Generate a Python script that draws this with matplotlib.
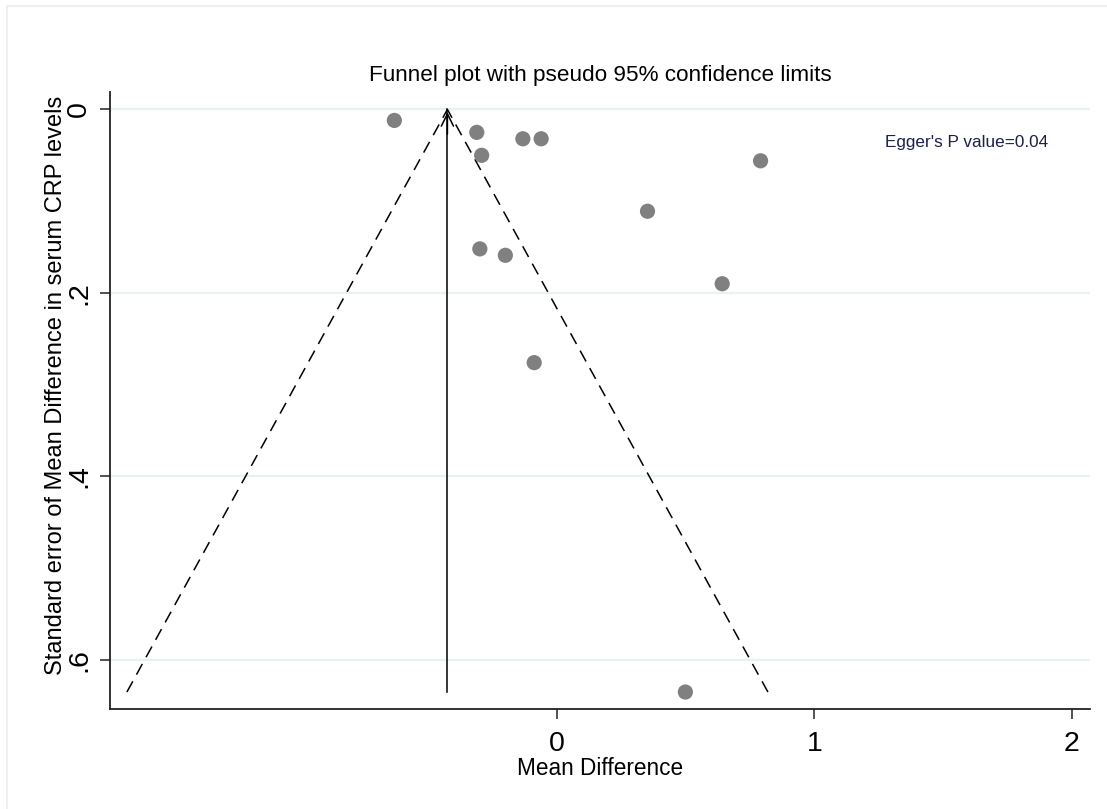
import matplotlib
matplotlib.use("Agg")
import matplotlib.pyplot as plt
from matplotlib.lines import Line2D

plt.rcParams['font.family'] = ['Liberation Sans', 'DejaVu Sans']

# Study-level estimates: mean difference and its standard error
mean_diff = [-0.631, -0.311, -0.132, -0.061, -0.292, 0.791, 0.352,
             -0.299, -0.200, 0.642, -0.088, 0.499]
std_err = [0.012, 0.025, 0.032, 0.032, 0.050, 0.056, 0.111,
           0.152, 0.159, 0.190, 0.276, 0.635]

pooled = -0.425
z95 = 1.96
se_max = max(std_err)

x_ticks = [0, 1, 2]
x_tick_labels = ["0", "1", "2"]
y_ticks = [0, 0.2, 0.4, 0.6]
y_tick_labels = ["0", ".2", ".4", ".6"]

fig = plt.figure(figsize=(11.07, 8.09), dpi=100)
ax = fig.add_axes([0.0994, 0.1236, 0.8852, 0.7627])

# gridlines
for yt in y_ticks:
    ax.axhline(yt, color="#eaf1f3", lw=1.6, zorder=0)

# pseudo 95% confidence limits, each leg drawn from its lower end up to the apex
for sign in (-1, 1):
    ax.plot([pooled + sign * z95 * se_max, pooled], [se_max, 0],
            color="black", lw=1.1, linestyle=(0, (8, 5)), zorder=2)
# pooled estimate line with arrow head at top
ax.plot([pooled, pooled], [se_max, 0], color="black", lw=1.1, zorder=2)
ax.annotate("", xy=(pooled, 0), xytext=(pooled, 0.03),
            arrowprops=dict(arrowstyle="->", color="black", lw=1.1,
                            mutation_scale=22), zorder=2)

ax.scatter(mean_diff, std_err, s=120, color="#808080", edgecolors="none", zorder=3)

ax.set_xlim(-1.735, 2.07)
ax.set_ylim(0.6535, -0.019)

ax.set_xticks(x_ticks)
ax.set_xticklabels(x_tick_labels, fontsize=20.5)
ax.set_yticks(y_ticks)
ax.set_yticklabels(y_tick_labels, fontsize=20.5, rotation=90, va="center")

ax.tick_params(axis="both", direction="out", length=7, width=1.2, color="#333333")
ax.tick_params(axis="x", pad=9)
ax.tick_params(axis="y", pad=6)

for side in ["top", "right"]:
    ax.spines[side].set_visible(False)
for side in ["left", "bottom"]:
    ax.spines[side].set_linewidth(1.3)
    ax.spines[side].set_color("#222222")

ax.set_xlabel("Mean Difference", fontsize=16.3, labelpad=0)
ax.set_ylabel("Standard error of Mean Difference in serum CRP levels",
              fontsize=17)
ax.yaxis.set_label_coords(-0.044, 0.525)
fig.text(0.542, 0.907, "Funnel plot with pseudo 95% confidence limits",
         ha="center", va="center", fontsize=16.2)

ax.text(0.7995, 0.824, "Egger's P value=0.04", transform=fig.transFigure,
        ha="left", va="center", fontsize=12.3, color="#1c1f4a")

# light outer frame
fig.add_artist(Line2D([0.0063, 0.0063], [0, 0.9926], transform=fig.transFigure,
                      color="#efeff2", lw=1.5))
fig.add_artist(Line2D([0.0063, 1], [0.9926, 0.9926], transform=fig.transFigure,
                      color="#efeff2", lw=1.5))

fig.savefig("out.png", dpi=100, facecolor="white")
